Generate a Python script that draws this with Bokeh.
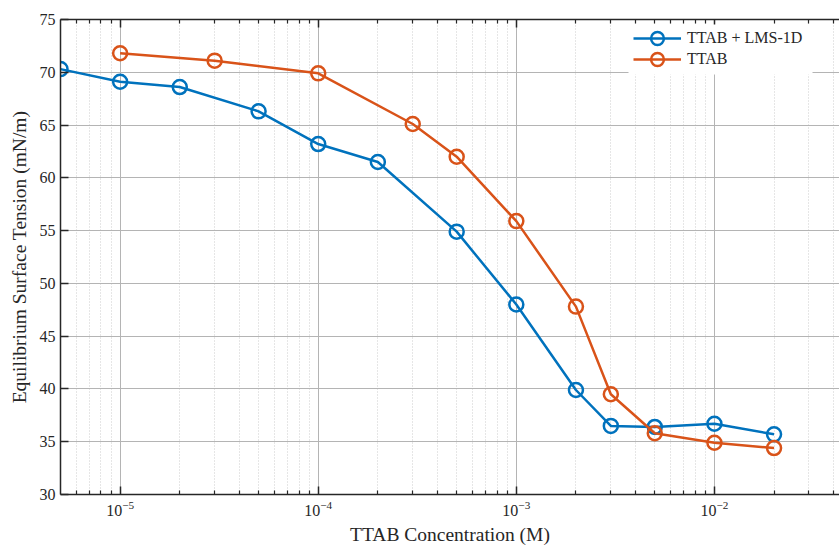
from bokeh.plotting import figure
from bokeh.models import (Range1d, FixedTicker, LogAxis, LinearAxis, Legend,
                          LegendItem, LogScale, Grid, BoxAnnotation)
from bokeh.embed import file_html
from bokeh.resources import INLINE

# ---- data ----
conc_mix = [5e-6, 1e-5, 2e-5, 5e-5, 1e-4, 2e-4, 5e-4, 1e-3, 2e-3, 3e-3, 5e-3, 1e-2, 2e-2]
st_mix = [70.3, 69.1, 68.6, 66.3, 63.2, 61.5, 54.9, 48.0, 39.9, 36.5, 36.4, 36.7, 35.7]
conc_ttab = [1e-5, 3e-5, 1e-4, 3e-4, 5e-4, 1e-3, 2e-3, 3e-3, 5e-3, 1e-2, 2e-2]
st_ttab = [71.8, 71.1, 69.9, 65.1, 62.0, 55.9, 47.8, 39.5, 35.8, 34.9, 34.4]

x_major = [1e-5, 1e-4, 1e-3, 1e-2]
x_minor = [m * 10.0 ** e for e in range(-6, -1) for m in range(2, 10)]
y_ticks = [30, 35, 40, 45, 50, 55, 60, 65, 70, 75]

BLUE = "#0072BD"
ORANGE = "#D95319"
DARK = "#262626"
FONT = "Liberation Serif"

xt = FixedTicker(ticks=x_major, minor_ticks=x_minor)
yt = FixedTicker(ticks=y_ticks, minor_ticks=[])

p = figure(width=839, height=547, x_axis_type=None, y_axis_type=None,
           x_range=Range1d(5e-6, 0.0428), y_range=Range1d(30, 75),
           output_backend="svg", toolbar_location=None,
           min_border_left=60, min_border_right=0, min_border_top=19,
           min_border_bottom=52)
p.x_scale = LogScale()
p.outline_line_color = None
p.background_fill_color = "white"
p.border_fill_color = "white"

bottom = LogAxis(ticker=xt)
left = LinearAxis(ticker=yt)
top = LogAxis(ticker=xt, major_label_text_font_size="0px",
              major_label_text_alpha=0, major_label_standoff=0)
p.add_layout(bottom, "below")
p.add_layout(left, "left")
p.add_layout(top, "above")

for ax in [bottom, left, top]:
    ax.axis_line_color = DARK
    ax.axis_line_width = 1.5
    ax.major_tick_in = 8
    ax.major_tick_out = 0
    ax.minor_tick_in = 4
    ax.minor_tick_out = 0
    ax.major_tick_line_color = DARK
    ax.major_tick_line_width = 1.5
    ax.minor_tick_line_color = DARK
    ax.minor_tick_line_width = 1.2
    ax.major_label_text_font = FONT
    ax.major_label_text_color = DARK
    ax.axis_label_text_font = FONT
    ax.axis_label_text_color = DARK
    ax.axis_label_text_font_style = "normal"

bottom.major_label_text_font_size = "16px"
left.major_label_text_font_size = "16px"
bottom.major_label_standoff = 6
left.major_label_standoff = 5
bottom.axis_label = "TTAB Concentration (M)"
left.axis_label = "Equilibrium Surface Tension (mN/m)"
bottom.axis_label_text_font_size = "19.5px"
left.axis_label_text_font_size = "19.5px"
bottom.axis_label_standoff = 5
left.axis_label_standoff = 7

xg = Grid(dimension=0, ticker=xt, grid_line_color="#b4b4b4", grid_line_width=1,
          minor_grid_line_color="#cccccc", minor_grid_line_dash="1 2",
          minor_grid_line_width=1)
yg = Grid(dimension=1, ticker=yt, grid_line_color="#b4b4b4", grid_line_width=1)
p.add_layout(xg)
p.add_layout(yg)

l1 = p.line(conc_mix, st_mix, line_color=BLUE, line_width=2.5)
s1 = p.scatter(conc_mix, st_mix, marker="circle", size=14, line_color=BLUE,
               fill_color=None, line_width=2.5)
l2 = p.line(conc_ttab, st_ttab, line_color=ORANGE, line_width=2.5)
s2 = p.scatter(conc_ttab, st_ttab, marker="circle", size=14, line_color=ORANGE,
               fill_color=None, line_width=2.5)

# white legend background box (canvas pixels)
bg = BoxAnnotation(left=628, right=812, top=24, bottom=74,
                   left_units="canvas", right_units="canvas",
                   top_units="canvas", bottom_units="canvas",
                   fill_color="white", fill_alpha=1, line_alpha=0)
p.add_layout(bg)


def make_legend(label, rends, loc):
    lg = Legend(items=[LegendItem(label=label, renderers=rends)], location=loc)
    lg.label_text_font = FONT
    lg.label_text_font_size = "16px"
    lg.label_text_color = DARK
    lg.glyph_width = 48
    lg.glyph_height = 32
    lg.label_width = 117
    lg.spacing = 0
    lg.padding = 0
    lg.margin = 0
    lg.label_standoff = 6
    lg.border_line_alpha = 0
    lg.background_fill_alpha = 0
    return lg


p.add_layout(make_legend("TTAB + LMS-1D", [l1, s1], (573, 440)))
p.add_layout(make_legend("TTAB", [l2, s2], (573, 419)))

open("out.html", "w").write(file_html(p, INLINE))
